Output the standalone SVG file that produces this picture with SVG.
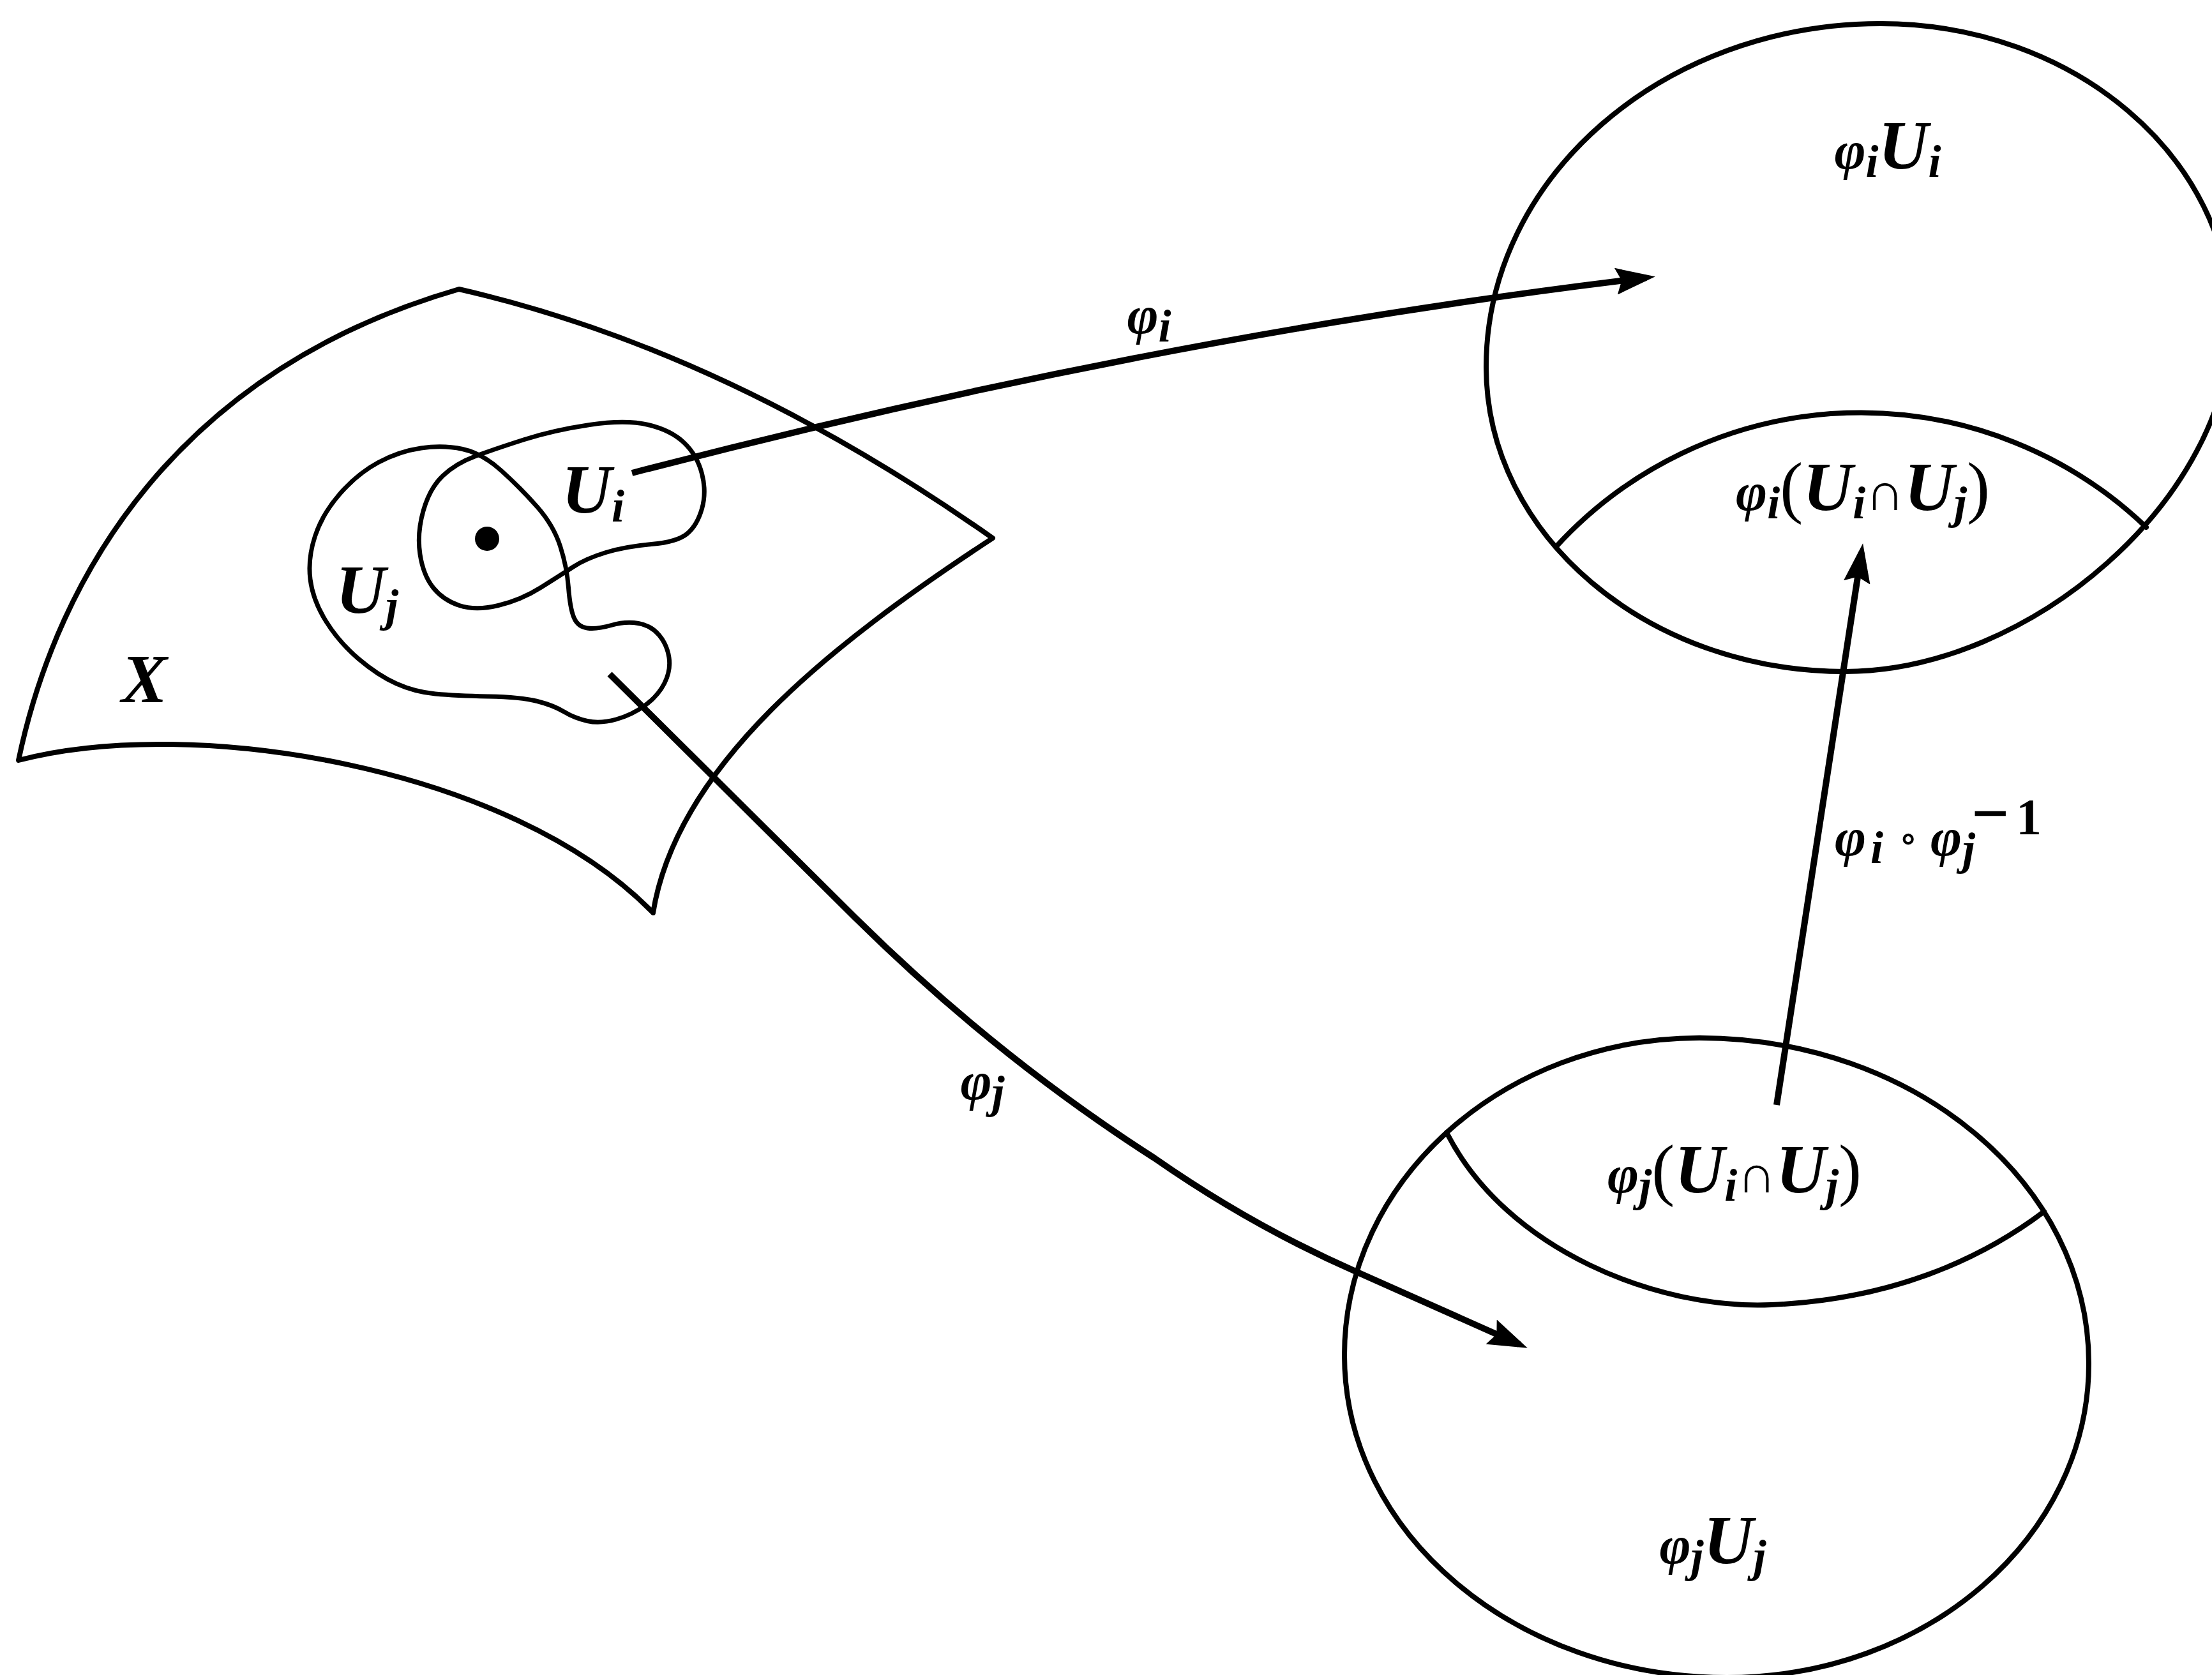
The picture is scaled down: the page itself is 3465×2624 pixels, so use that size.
<svg xmlns="http://www.w3.org/2000/svg" width="3465" height="2624" viewBox="0 0 3465 2624">
<style>
.ln{fill:none;stroke:#000;stroke-width:7;stroke-linejoin:round;stroke-linecap:round}
.ck{stroke-width:8}
.ar{fill:none;stroke:#000;stroke-width:10;stroke-linecap:butt}
.m{font-family:"Liberation Serif","DejaVu Serif",serif;font-style:italic;font-weight:bold;font-size:108px;fill:#000}
.g{font-size:84px}
.s{font-size:72px}
.p{font-style:normal;font-weight:normal}
.u{font-style:normal;font-weight:normal;font-size:84px}
</style>
<defs>
<marker id="ah" markerUnits="userSpaceOnUse" viewBox="0 0 62 42" refX="48" refY="21" markerWidth="62" markerHeight="42" orient="auto">
<path d="M0,0 L62,21 L0,42 L9,21 Z" fill="#000"/>
</marker>
</defs>
<rect width="3465" height="2624" fill="#fff"/>

<g id="sheet-X">
<path class="ln ck" d="M29,1191 C90,900 280,580 719,453 Q1136,548 1555,843 C1300,1010 1060,1200 1023,1430 C800,1200 300,1120 29,1191 Z"/>
<text class="m" x="190" y="1100">X</text>
</g>

<g id="set-Uj">
<path class="ln" d="M724.5,703.5 Q755,710 785.5,737.5 Q816,765 841.5,794 Q867,823 877.5,855.5 Q888,888 890.5,920.5 Q893,953 899,967.5 Q905,982 920,984 Q935,986 957.5,979.5 Q980,973 1000,976.5 Q1020,980 1032.5,995 Q1045,1010 1048,1030 Q1051,1050 1041,1070 Q1031,1090 1010.5,1105 Q990,1120 965,1127 Q940,1134 920,1129.5 Q900,1125 883.5,1115 Q867,1105 841.5,1098.5 Q816,1092 765,1091 Q714,1090 682,1087 Q650,1084 621,1071 Q592,1058 561.5,1032 Q531,1006 510.5,973 Q490,940 486,907.5 Q482,875 493.5,840 Q505,805 532.5,773.5 Q560,742 592.5,724.5 Q625,707 659.5,702 Q694,697 724.5,703.5 Z"/>
<text class="m" x="526" y="960">U<tspan class="s" dy="13">j</tspan></text>
</g>

<g id="set-Ui">
<path class="ln" d="M663,800.5 Q673,765 693.5,745.5 Q714,726 745,714.5 Q776,703 821.5,688.5 Q867,674 923.5,665.5 Q980,657 1015.5,665.5 Q1051,674 1071.5,693.5 Q1092,713 1099.5,742 Q1107,771 1099.5,797 Q1092,823 1076.5,836 Q1061,849 1020.5,852.5 Q980,856 949,865.5 Q918,875 898,888 Q878,901 847,920.5 Q816,940 780.5,948.5 Q745,957 719.5,948.5 Q694,940 678.5,920.5 Q663,901 658,868.5 Q653,836 663,800.5 Z"/>
<circle cx="763" cy="844" r="19" fill="#000"/>
<text class="m" x="880" y="803">U<tspan class="s" dy="14">i</tspan></text>
</g>

<g id="chart-i">
<path class="ln ck" d="M2946,37 C3249,37 3495,247 3495,505 C3495,780 3180,1052 2890,1052 C2580,1052 2328,838 2328,575 C2328,278 2605,37 2946,37 Z"/>
<path class="ln ck" d="M2437,857 A647,647 0 0 1 3362,826"/>
<text class="m" x="2957" y="264" text-anchor="middle"><tspan class="g">φ</tspan><tspan class="s" dy="13">i</tspan><tspan dy="-13">U</tspan><tspan class="s" dy="13">i</tspan></text>
<text class="m" x="2918" y="799" text-anchor="middle"><tspan class="g">φ</tspan><tspan class="s" dy="13">i</tspan><tspan class="p" dy="-13">(</tspan>U<tspan class="s" dy="13">i</tspan><tspan class="u" dy="-13">∩</tspan>U<tspan class="s" dy="13">j</tspan><tspan class="p" dy="-13">)</tspan></text>
</g>

<g id="chart-j">
<path class="ln ck" d="M2662,1626 C2999,1626 3272,1854 3272,2136 C3272,2408 3018,2628 2705,2628 C2374,2628 2106,2402 2106,2123 C2106,1849 2355,1626 2662,1626 Z"/>
<path class="ln ck" d="M2266,1774 C2360,1960 2600,2052 2775,2044 C2960,2036 3100,1975 3202,1898"/>
<text class="m" x="2717" y="1868" text-anchor="middle"><tspan class="g">φ</tspan><tspan class="s" dy="13">j</tspan><tspan class="p" dy="-13">(</tspan>U<tspan class="s" dy="13">i</tspan><tspan class="u" dy="-13">∩</tspan>U<tspan class="s" dy="13">j</tspan><tspan class="p" dy="-13">)</tspan></text>
<text class="m" x="2683" y="2449" text-anchor="middle"><tspan class="g">φ</tspan><tspan class="s" dy="13">j</tspan><tspan dy="-13">U</tspan><tspan class="s" dy="13">j</tspan></text>
</g>

<g id="connectors">
<path id="map-phi-i" class="ar" marker-end="url(#ah)" d="M990,741 Q1808,527 2579,435"/>
<path id="map-phi-j" class="ar" marker-end="url(#ah)" d="M955,1056 L1340,1438 Q1560,1655 1808,1814 Q1960,1920 2124,1992 L2380,2106"/>
<path id="map-transition" class="ar" marker-end="url(#ah)" d="M2783,1731 L2916,865"/>
<text class="m" x="1800" y="522" text-anchor="middle"><tspan class="g">φ</tspan><tspan class="s" dy="13">i</tspan></text>
<text class="m" x="1539" y="1722" text-anchor="middle"><tspan class="g">φ</tspan><tspan class="s" dy="13">j</tspan></text>
<text class="m"><tspan class="g" x="2874" y="1340">φ</tspan><tspan class="s" x="2930" y="1352">i</tspan><tspan class="u" x="2974" y="1334" style="font-size:62px">∘</tspan><tspan class="g" x="3024" y="1340">φ</tspan><tspan class="s" x="3074" y="1354">j</tspan><tspan x="3088" y="1309" style="font-style:normal;font-size:104px">−</tspan><tspan x="3158" y="1307" style="font-style:normal;font-size:80px">1</tspan></text>
</g>
</svg>
